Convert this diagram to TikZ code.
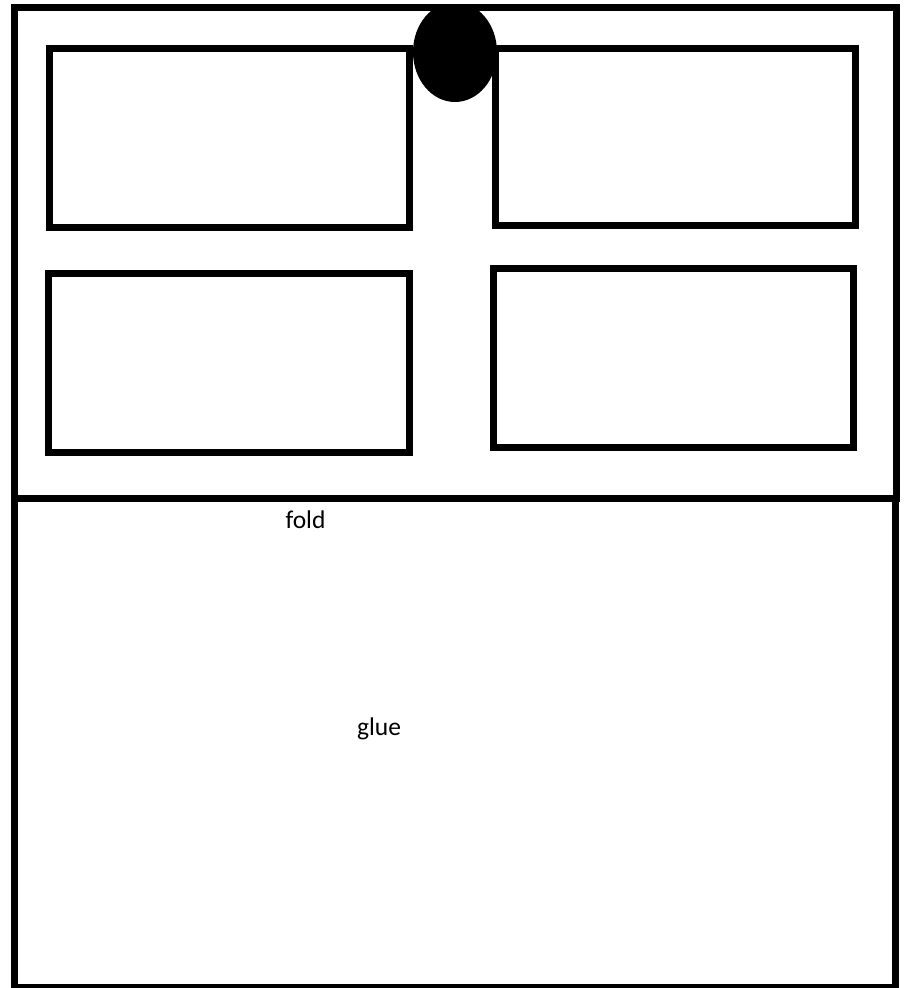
\documentclass[tikz,border=0pt]{standalone}
\usepackage{fontspec}
\setmainfont{Carlito}
\usetikzlibrary{shapes.geometric}
\begin{document}
\begin{tikzpicture}[x=1pt,y=-1pt,
  panel/.style={draw=black,line width=7pt,inner sep=0pt,outer sep=0pt,rectangle},
  label/.style={font=\fontsize{25.5}{30}\selectfont,anchor=base,inner sep=0pt}]
\useasboundingbox (0,0) rectangle (911,988);
\fill[white] (0,0) rectangle (911,988);
% outer pieces
\node[panel,minimum width=882pt,minimum height=490.5pt] (top) at (455.5,252.75) {};
\node[panel,minimum width=881.5pt,minimum height=489.5pt] (bottom) at (454.75,742.75) {};
% inner panels
\node[panel,minimum width=360pt,minimum height=178.5pt] (tl) at (229.7,137.75) {};
\node[panel,minimum width=360.3pt,minimum height=177.5pt] (tr) at (675.15,136.75) {};
\node[panel,minimum width=360.3pt,minimum height=178.3pt] (bl) at (228.85,362.85) {};
\node[panel,minimum width=360pt,minimum height=178.9pt] (br) at (673,358.25) {};
% knob
\begin{scope}
\clip (0,8) rectangle (911,200);
\node[ellipse,fill=black,inner sep=0pt,minimum width=84pt,minimum height=100pt] (knob) at (455,52) {};
\end{scope}
% texts
\node[label] (fold) at (305.5,528.3) {fold};
\node[label] (glue) at (379,735) {glue};
\end{tikzpicture}
\end{document}
